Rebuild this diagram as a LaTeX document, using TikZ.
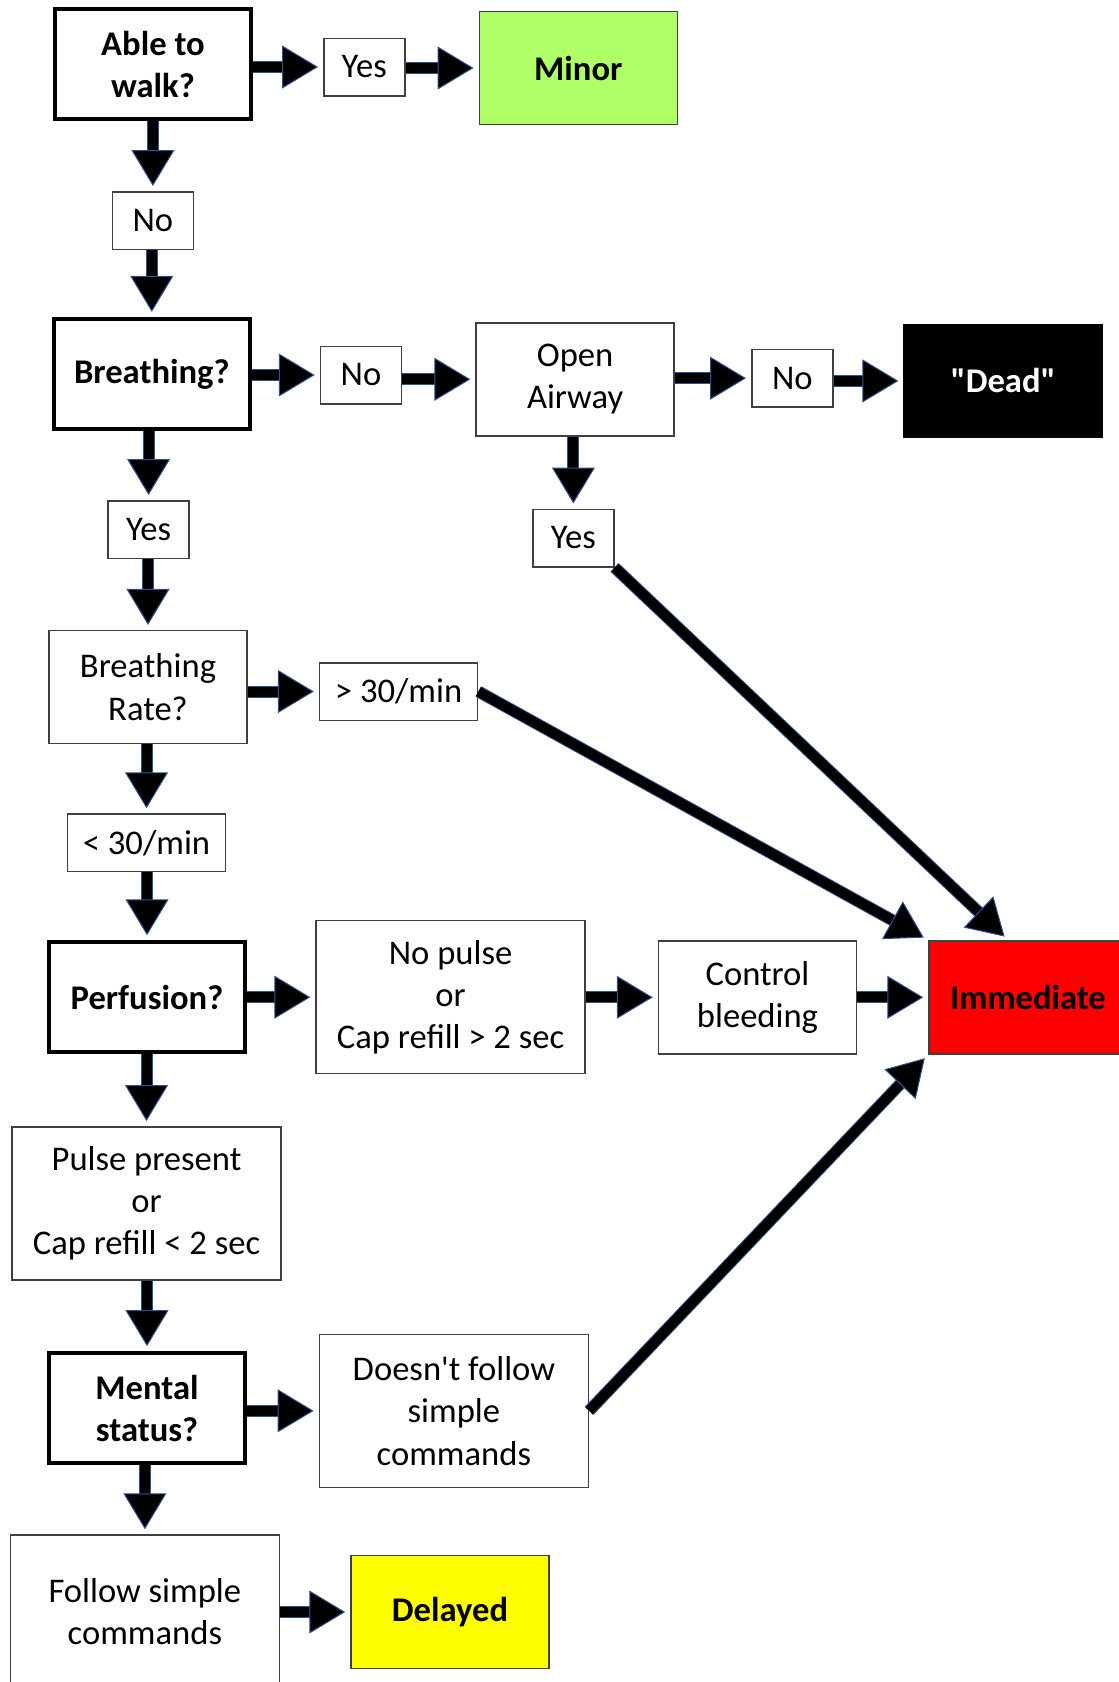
\documentclass[tikz,border=0pt]{standalone}
\usepackage{fontspec}
\setmainfont{Carlito}[Ligatures=TeXOff]
\usetikzlibrary{arrows.meta}
\definecolor{edge}{HTML}{2F528F}
\definecolor{frame}{HTML}{404040}
\definecolor{minorgreen}{HTML}{AFFF66}
\definecolor{immred}{HTML}{FF0000}
\definecolor{delayyellow}{HTML}{FFFF00}

\begin{document}
\begin{tikzpicture}[
  x = 1pt, y = -1pt,
  txt/.style = {font=\fontsize{34.6}{42.4}\selectfont},
  bold/.style = {font=\fontsize{34.6}{42.4}\selectfont\bfseries},
  box/.style = {txt, draw=frame, line width=1.5pt, align=center, inner sep=0pt,
    minimum width=198pt, minimum height=113pt},
  ask/.style = {box, bold, draw=black, line width=4pt,
    minimum width=196pt, minimum height=110pt},
  tag/.style = {box, minimum width=81pt, minimum height=57.5pt},
  wide/.style = {box, minimum width=269pt, minimum height=153pt},
  result/.style = {box, bold},
  flow/.style = {line width=10pt, shorten >=5pt,
    -{Triangle[width=43pt, length=36pt, line width=1pt, fill=black, color=edge]},
    preaction={draw=edge, line width=12pt, -, shorten >=25pt}},
]

  \useasboundingbox (0,0) rectangle (1119,1682);

  \node[ask] (walk) at (153,64.3) {Able to\\walk?};
  \node[tag] (yesA) at (364.3,67) {Yes};
  \node[result, fill=minorgreen] (minor) at (578.3,68) {Minor};
  \node[tag] (noA) at (152.9,220.5) {No};

  \node[ask] (breath) at (151.8,373.9) {Breathing?};
  \node[tag] (noB) at (361,375) {No};
  \node[box] (airway) at (575.1,379.3) {Open\\Airway};
  \node[tag] (noC) at (792.3,378.2) {No};
  \node[result, fill=black, draw=black, text=white] (dead) at (1003.2,380.9) {"Dead"};
  \node[tag] (yesB) at (148.6,529.5) {Yes};
  \node[tag] (yesC) at (573.4,538) {Yes};

  \node[box] (rate) at (148,687.2) {Breathing\\Rate?};
  \node[tag, minimum width=158pt] (fast) at (398.6,691.5) {> 30/min};
  \node[tag, minimum width=158pt] (slow) at (146.5,842.8) {< 30/min};

  \node[ask] (perf) at (147,997.3) {Perfusion?};
  \node[wide] (nopulse) at (450.6,997.2) {No pulse\\or\\Cap refill > 2 sec};
  \node[box] (bleed) at (757.5,997.3) {Control\\bleeding};
  \node[result, fill=immred] (immediate) at (1028,997.3) {Immediate};
  \node[wide] (pulse) at (146.5,1203.3) {Pulse present\\or\\Cap refill < 2 sec};

  \node[ask] (mental) at (147,1408.2) {Mental\\status?};
  \node[wide] (nofollow) at (453.9,1410.8) {Doesn't follow\\simple\\commands};
  \node[wide] (follow) at (144.9,1611.5) {Follow simple\\commands};
  \node[result, fill=delayyellow] (delayed) at (450,1612) {Delayed};

  \foreach \a/\b in {walk/yesA, yesA/minor, breath/noB, noB/airway, airway/noC,
      noC/dead, rate/fast, perf/nopulse, nopulse/bleed, bleed/immediate,
      mental/nofollow, follow/delayed}
    \draw[flow] (\a.east |- \b) -- (\b.west);

  \foreach \a/\b in {walk/noA, noA/breath, breath/yesB, yesB/rate, airway/yesC,
      rate/slow, slow/perf, perf/pulse, pulse/mental, mental/follow}
    \draw[flow] (\a.south -| \b) -- (\b.north);

  \coordinate (immtop) at ([xshift=80pt]immediate.north west);
  \draw[flow] (yesC.south east) -- (immtop);
  \draw[flow] (fast.east) -- (immediate.north west);
  \draw[flow] (nofollow.east) -- (immediate.south west);

\end{tikzpicture}
\end{document}
